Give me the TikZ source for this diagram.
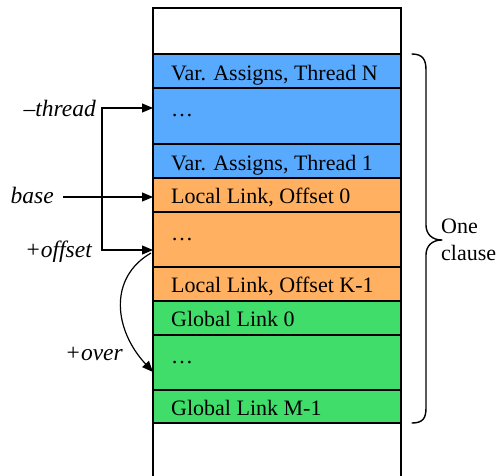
\documentclass[tikz,border=0pt]{standalone}
\usepackage{fontspec}
\setmainfont{Liberation Serif}
\usetikzlibrary{arrows.meta}
\definecolor{cblue}{RGB}{88,170,255}
\definecolor{corange}{RGB}{255,176,96}
\definecolor{cgreen}{RGB}{64,221,106}
\begin{document}
\begin{tikzpicture}[x=1pt,y=-1pt,
  cell/.style={draw=black, line width=1.4pt, minimum width=248pt, inner sep=0pt, outer sep=0pt, anchor=north west},
  rowtext/.style={anchor=base west, inner sep=0pt, font=\fontsize{22}{26}\selectfont},
  lab/.style={anchor=base east, inner sep=0pt, font=\fontsize{23.5}{28}\selectfont\itshape},
  tip/.style={Triangle[length=11pt,width=9pt]},
  arr/.style={line width=1.2pt, -{Triangle[length=11pt,width=9pt]}},
  brace/.style={line width=1.4pt, line cap=round, line join=round}
]
\useasboundingbox (0,0) rectangle (499,475);
\fill[white] (0,0) rectangle (499,475);
% column outline
\draw[line width=1.4pt] (153,480) -- (153,8) -- (401,8) -- (401,480);
% rows
\node[cell, fill=cblue,   minimum height=34pt] (r1) at (153,54)  {};
\node[cell, fill=cblue,   minimum height=56pt] (r2) at (153,88)  {};
\node[cell, fill=cblue,   minimum height=34pt] (r3) at (153,144) {};
\node[cell, fill=corange, minimum height=34pt] (r4) at (153,178) {};
\node[cell, fill=corange, minimum height=55pt] (r5) at (153,212) {};
\node[cell, fill=corange, minimum height=34pt] (r6) at (153,267) {};
\node[cell, fill=cgreen,  minimum height=34pt] (r7) at (153,301) {};
\node[cell, fill=cgreen,  minimum height=55pt] (r8) at (153,335) {};
\node[cell, fill=cgreen,  minimum height=33pt] (r9) at (153,390) {};
% row texts
\node[rowtext] (t1) at (171,80)    {Var. Assigns, Thread N};
\node[rowtext] (t2) at (171,116)   {…};
\node[rowtext] (t3) at (171,170)   {Var. Assigns, Thread 1};
\node[rowtext] (t4) at (171,203.5) {Local Link, Offset 0};
\node[rowtext] (t5) at (171,240)   {…};
\node[rowtext] (t6) at (171,292.5) {Local Link, Offset K-1};
\node[rowtext] (t7) at (171,326.5) {Global Link 0};
\node[rowtext] (t8) at (171,363)   {…};
\node[rowtext] (t9) at (171,415)   {Global Link M-1};
% labels
\node[lab] (lthread) at (96,116) {–thread};
\node[lab] (lbase)   at (54,203) {base};
\node[lab] (loffset) at (92,257) {+offset};
\node[lab] (lover)   at (123,360) {+over};
% connectors
\coordinate (J1) at (102,108);
\coordinate (J2) at (102,250);
\coordinate (B) at (63,197);
\coordinate (S) at (151,253);
\coordinate (E) at (0,372);
\draw[line width=1.2pt, {Triangle[length=11pt,width=9pt]}-{Triangle[length=11pt,width=9pt]}]
  (J1 -| r2.west) -- (J1) -- (J2) -- (J2 -| r5.west);
\draw[arr] (B) -- (B -| r4.west);
\draw[arr] (S) .. controls (108,278) and (114,330) .. (E -| r8.west);
% brace
\draw[brace] (412,54) .. controls (423,54) and (426,60) .. (426,70) -- (426,225)
  .. controls (426,234) and (432,240) .. (442,240)
  .. controls (432,240) and (426,246) .. (426,255) -- (426,408)
  .. controls (426,418) and (423,423) .. (412,423);
\node[rowtext] (one) at (441,233) {One};
\node[rowtext] (clause) at (441,260) {clause};
\end{tikzpicture}
\end{document}
